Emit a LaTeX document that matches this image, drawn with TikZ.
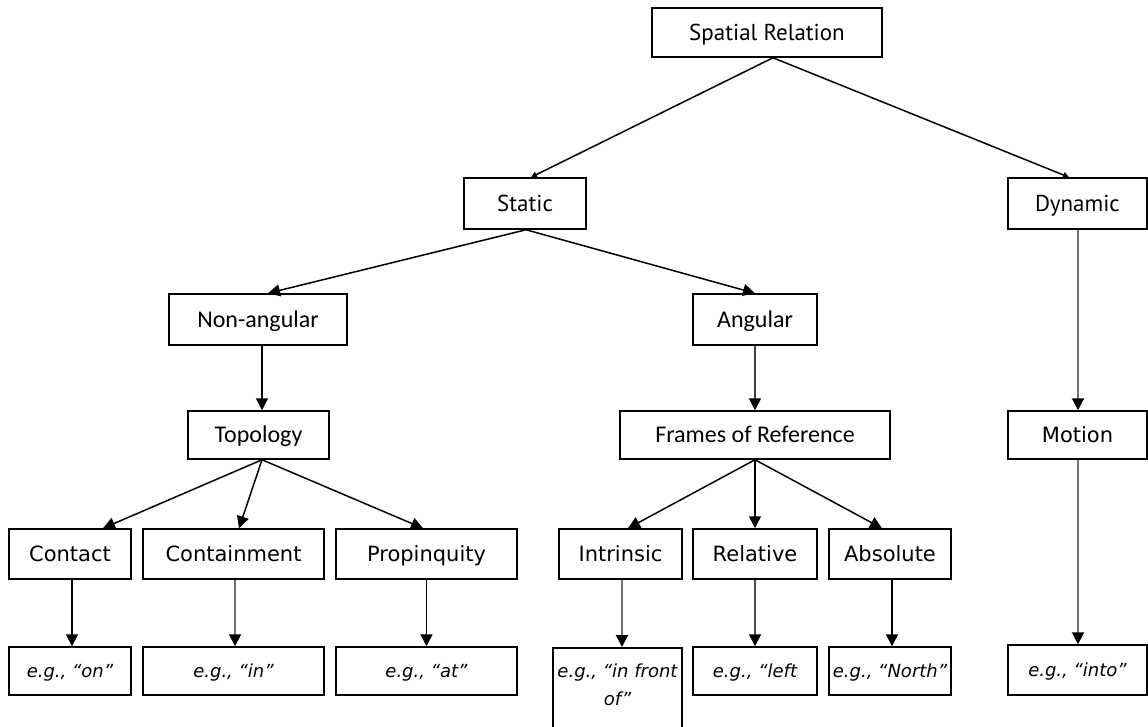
\documentclass[tikz,border=0pt]{standalone}
\usepackage{fontspec}
\setmainfont{DejaVu Sans}
\newfontfamily\ptfont{PT Sans}
\newfontfamily\carfont{Carlito}
\usetikzlibrary{arrows.meta}

\begin{document}
\begin{tikzpicture}[x=1pt,y=-1pt,
  box/.style={draw=black, line width=1.5pt, rectangle, inner sep=2pt, text=black},
  toplabel/.style={box, minimum height=50pt, text height=16pt, text depth=0pt,
    font=\ptfont\fontsize{23}{26}\selectfont},
  midlabel/.style={box, minimum height=50pt, text height=15.5pt, text depth=0pt,
    font=\carfont\fontsize{24}{28}\selectfont},
  leaflabel/.style={box, minimum height=50pt, text height=15.3pt, text depth=0pt,
    font=\fontsize{21}{24}\selectfont},
  example/.style={box, minimum height=48pt, text height=13pt, text depth=0pt,
    font=\itshape\fontsize{18}{28}\selectfont},
  link/.style={line width=1.5pt, -{Triangle[length=12pt,width=12pt,color=black]}},
  smalllink/.style={line width=1.5pt, -{Triangle[length=6pt,width=6pt]}},
  greylink/.style={link, line width=2pt, draw=black!55},
]
% canvas
\path[fill=white, use as bounding box] (0,0) rectangle (1148,726);

% level 0 and 1
\node[toplabel, minimum width=230pt, minimum height=49pt] (sr) at (767,32.5) {Spatial Relation};
\node[toplabel, minimum width=122pt, minimum height=51pt] (st) at (525,203.5) {Static};
\node[toplabel, minimum width=139pt, minimum height=51pt] (dy) at (1077.5,203.5) {Dynamic};

% level 2
\node[midlabel, minimum width=178pt, minimum height=51pt] (na) at (258,319.5) {Non-angular};
\node[midlabel, minimum width=124pt, minimum height=51pt] (an) at (755,319.5) {Angular};

% level 3
\node[midlabel, minimum width=141pt, minimum height=48pt] (to) at (258.5,435) {Topology};
\node[midlabel, minimum width=270pt, minimum height=48pt] (fr) at (755,435) {Frames of Reference};
\node[leaflabel, minimum width=139pt, minimum height=48pt] (mo) at (1077.5,435) {Motion};

% level 4
\node[leaflabel, minimum width=122pt] (co) at (70,554) {Contact};
\node[leaflabel, minimum width=181pt] (cn) at (233.5,554) {Containment};
\node[leaflabel, minimum width=181pt] (pr) at (426.5,554) {Propinquity};
\node[leaflabel, minimum width=123pt] (in) at (620.5,554) {Intrinsic};
\node[leaflabel, minimum width=124pt] (re) at (755,554) {Relative};
\node[leaflabel, minimum width=122pt] (ab) at (890,554) {Absolute};

% examples
\node[example, minimum width=122pt] (eon) at (70,671) {e.g., “on”};
\node[example, minimum width=181pt] (ein) at (233.5,671) {e.g., “in”};
\node[example, minimum width=181pt] (eat) at (426.5,671) {e.g., “at”};
\node[draw=black, line width=1.5pt, anchor=north, minimum width=129pt,
  inner xsep=2pt, inner ysep=0pt, text=black,
  font=\itshape\fontsize{18}{28}\selectfont] (efr) at (617.5,647)
  {\parbox[t][100pt][t]{125pt}{\centering\rule{0pt}{30pt}e.g., “in front\\of”}};
\node[example, minimum width=124pt] (ele) at (755,671) {e.g., “left};
\node[example, minimum width=122pt] (eno) at (890,671) {e.g., “North”};
\node[example, minimum width=139pt, minimum height=50pt] (eto) at (1077.5,670) {e.g., “into”};

% connectors
\draw[smalllink] ([xshift=6pt]sr.south) -- ([xshift=6pt]st.north);
\draw[smalllink] ([xshift=6pt]sr.south) -- ([xshift=-8.5pt]dy.north);
\draw[link] ([xshift=1pt]st.south) -- ([xshift=10pt]na.north);
\draw[link] ([xshift=1pt]st.south) -- (an.north);
\draw[link] ([xshift=4pt]na.south) -- ([xshift=3.5pt]to.north);
\draw[link, draw=black!75] (an.south) -- (fr.north);
\draw[greylink] ([xshift=0.5pt]dy.south) -- ([xshift=0.5pt]mo.north);

\draw[link] ([xshift=3.5pt]to.south) -- ([xshift=33pt]co.north);
\draw[link] ([xshift=3.5pt]to.south) -- ([xshift=5.5pt]cn.north);
\draw[link] ([xshift=3.5pt]to.south) -- ([xshift=-3.5pt]pr.north);
\draw[link] (fr.south) -- ([xshift=7.5pt]in.north);
\draw[link] (fr.south) -- (re.north);
\draw[link] (fr.south) -- ([xshift=-8pt]ab.north);

\draw[link] ([xshift=2pt]co.south) -- ([xshift=2pt]eon.north);
\draw[greylink] ([xshift=1.5pt]cn.south) -- ([xshift=1.5pt]ein.north);
\draw[link] (pr.south) -- (eat.north);
\draw[greylink] ([xshift=1.5pt]in.south) -- ([xshift=4.5pt]efr.north);
\draw[greylink, draw=black!70] (re.south) -- (ele.north);
\draw[link] ([xshift=2pt]ab.south) -- ([xshift=2pt]eno.north);
\draw[greylink] ([xshift=0.5pt]mo.south) -- ([xshift=0.5pt]eto.north);
\end{tikzpicture}
\end{document}
